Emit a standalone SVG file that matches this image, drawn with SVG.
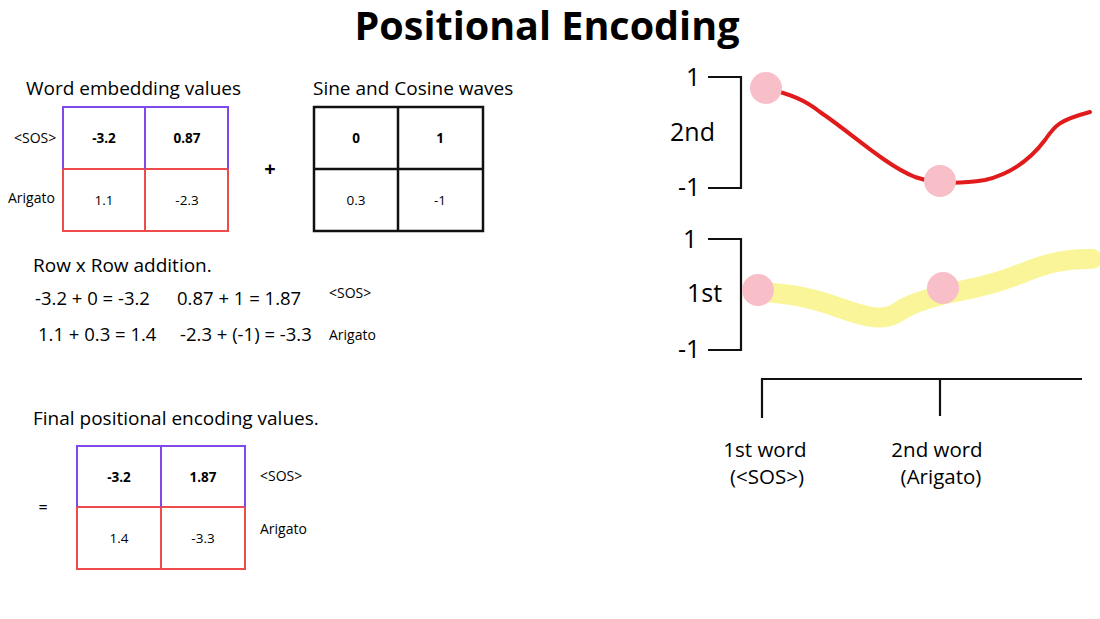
<svg xmlns="http://www.w3.org/2000/svg" width="1100" height="619" viewBox="0 0 1100 619">
<style>
text{font-family:"Open Sans","Liberation Sans",sans-serif;fill:#000}
.title{font-size:39.5px;font-weight:700;text-anchor:middle}
.hd{font-size:19px}
.cell{font-size:13.5px;text-anchor:middle}
.b{font-weight:700}
.lab{font-size:14px}
.eq{font-size:18.5px}
.ax{font-size:25px}
.wd{font-size:20.5px;text-anchor:middle}
.purple{fill:none;stroke:#8148ec;stroke-width:2}
.red{fill:none;stroke:#ee4b4b;stroke-width:2}
.blk{fill:none;stroke:#111;stroke-width:2.5}
.ln{fill:none;stroke:#111;stroke-width:2.2}
.dot{fill:#f9bfc8}
</style>
<rect width="1100" height="619" fill="#fff"/>
<text class="title" x="547" y="40">Positional Encoding</text>

<g id="word-embedding">
<text class="hd" x="26" y="95">Word embedding values</text>
<text class="lab" x="14" y="143">&lt;SOS&gt;</text>
<text class="lab" x="8" y="203">Arigato</text>
<path class="red" d="M63 169 H228 V231 H63 Z M145 169 V231"/>
<path class="purple" d="M63 169 V107 H228 V169 M145 107 V169"/>
<text class="cell b" x="104" y="143">-3.2</text>
<text class="cell b" x="187" y="143">0.87</text>
<text class="cell" x="104" y="205">1.1</text>
<text class="cell" x="187" y="205">-2.3</text>
</g>

<g id="plus"><text x="270" y="176" style="font-size:20px;font-weight:700;text-anchor:middle">+</text></g>

<g id="sine-cosine">
<text class="hd" x="313" y="95">Sine and Cosine waves</text>
<path class="blk" d="M314 107 H483 V231 H314 Z M398 107 V231 M314 169 H483"/>
<text class="cell b" x="356" y="143">0</text>
<text class="cell b" x="440" y="143">1</text>
<text class="cell" x="356" y="205">0.3</text>
<text class="cell" x="440" y="205">-1</text>
</g>

<g id="row-addition">
<text class="hd" x="33" y="272">Row x Row addition.</text>
<text class="eq" x="35" y="305">-3.2 + 0 = -3.2</text>
<text class="eq" x="177" y="305">0.87 + 1 = 1.87</text>
<text class="lab" x="329" y="298">&lt;SOS&gt;</text>
<text class="eq" x="38" y="341">1.1 + 0.3 = 1.4</text>
<text class="eq" x="180" y="341">-2.3 + (-1) = -3.3</text>
<text class="lab" x="329" y="340">Arigato</text>
</g>

<g id="final-values">
<text class="hd" x="33" y="425">Final positional encoding values.</text>
<text x="43" y="513" style="font-size:16px;text-anchor:middle">=</text>
<path class="red" d="M77 507 H245 V569 H77 Z M161 507 V569"/>
<path class="purple" d="M77 507 V446 H245 V507 M161 446 V507"/>
<text class="cell b" x="119" y="482">-3.2</text>
<text class="cell b" x="203" y="482">1.87</text>
<text class="cell" x="119" y="543">1.4</text>
<text class="cell" x="203" y="543">-3.3</text>
<text class="lab" x="260" y="481">&lt;SOS&gt;</text>
<text class="lab" x="260" y="534">Arigato</text>
</g>

<g id="wave-2nd">
<path class="ln" d="M708 77 H741 V188 H708"/>
<text class="ax" x="686" y="86">1</text>
<text class="ax" x="670" y="141">2nd</text>
<text class="ax" x="678" y="196">-1</text>
<path d="M768 89 C790 94 805 100 820 112 C850 132 885 165 915 177 C935 184 960 184 985 180 C1010 174 1030 160 1045 140 C1055 125 1060 120 1090 112" fill="none" stroke="#e11b1b" stroke-width="4" stroke-linecap="round"/>
<circle class="dot" cx="766" cy="88" r="16"/>
<circle class="dot" cx="940" cy="181" r="16"/>
</g>

<g id="wave-1st">
<path class="ln" d="M708 239 H741 V350 H708"/>
<text class="ax" x="683" y="248">1</text>
<text class="ax" x="687" y="302">1st</text>
<text class="ax" x="678" y="358">-1</text>
<path d="M762 292 C790 294 810 297 840 308 C860 315 880 322 895 314 C910 303 925 300 945 294 C975 288 995 284 1020 274 C1045 264 1065 258 1092 259" fill="none" stroke="#fbf599" stroke-width="20" stroke-linecap="round"/>
<circle class="dot" cx="758" cy="290" r="16"/>
<circle class="dot" cx="943" cy="288" r="16"/>
</g>

<g id="connectors">
<path class="ln" d="M762 418 V379 H1082 M940 379 V416" stroke-width="2.5"/>
</g>

<g id="word-labels">
<text class="wd" x="765" y="457">1st word</text>
<text class="wd" x="767" y="484">(&lt;SOS&gt;)</text>
<text class="wd" x="937" y="457">2nd word</text>
<text class="wd" x="941" y="484">(Arigato)</text>
</g>
</svg>
